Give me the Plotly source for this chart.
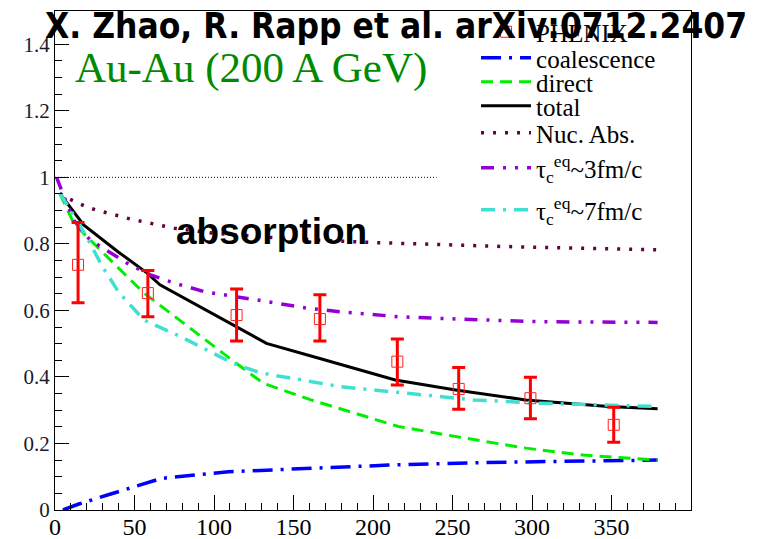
import plotly.graph_objects as go

# ---- data ----
npart_data = [14.5, 58.4, 114.2, 166.6, 215.3, 253.9, 299.0, 351.4]
raa_data = [0.737, 0.652, 0.586, 0.574, 0.446, 0.364, 0.336, 0.256]
err_plus = [0.127, 0.068, 0.078, 0.073, 0.068, 0.064, 0.063, 0.053]
err_minus = [0.114, 0.071, 0.078, 0.066, 0.070, 0.061, 0.062, 0.052]

coal_x = [5, 15, 33, 58, 67, 109, 155, 210, 271, 332, 379]
coal_y = [0.0, 0.018, 0.045, 0.082, 0.095, 0.115, 0.125, 0.135, 0.143, 0.148, 0.150]

direct_x = [3, 12, 41, 56, 114, 131, 161, 216, 253, 296, 332, 379]
direct_y = [0.952, 0.86, 0.722, 0.652, 0.441, 0.381, 0.331, 0.251, 0.220, 0.186, 0.165, 0.150]

total_x = [3, 18, 40, 58, 66, 114, 133, 166, 214, 252, 296, 348, 379]
total_y = [0.952, 0.857, 0.775, 0.712, 0.677, 0.552, 0.501, 0.456, 0.391, 0.361, 0.331, 0.311, 0.304]

nuc_x = [3, 6, 14, 21, 28, 36, 48, 60, 75, 100, 133, 166, 200, 283, 379]
nuc_y = [0.952, 0.942, 0.924, 0.909, 0.899, 0.889, 0.874, 0.862, 0.847, 0.832, 0.820, 0.811, 0.804, 0.792, 0.782]

tau3_x = [1, 5, 12, 22, 47, 60, 75, 95, 125, 158, 179, 216, 241, 304, 379]
tau3_y = [1.0, 0.95, 0.87, 0.812, 0.737, 0.707, 0.682, 0.655, 0.633, 0.607, 0.596, 0.581, 0.576, 0.566, 0.564]

tau7_x = [3, 10, 20, 30, 40, 56, 79, 112, 127, 137, 154, 179, 221, 263, 305, 379]
tau7_y = [0.952, 0.90, 0.82, 0.73, 0.655, 0.571, 0.521, 0.441, 0.416, 0.405, 0.392, 0.371, 0.351, 0.331, 0.321, 0.311]

unity_x = [0, 240]
unity_y = [1, 1]

x_ticks = [0, 50, 100, 150, 200, 250, 300, 350]
y_ticks = [0, 0.2, 0.4, 0.6, 0.8, 1.0, 1.2, 1.4]
y_tick_labels = ["0", "0.2", "0.4", "0.6", "0.8", "1", "1.2", "1.4"]

title_text = "X. Zhao, R. Rapp et al. arXiv:0712.2407"
system_text = "Au-Au (200 A GeV)"
absorption_text = "absorption"

SERIF = "Liberation Serif"

fig = go.Figure()

fig.add_trace(go.Scatter(x=unity_x, y=unity_y, mode="lines", showlegend=False,
                         line=dict(color="black", width=1, dash="1px,2px")))

fig.add_trace(go.Scatter(x=coal_x, y=coal_y, mode="lines", name="coalescence",
                         legend="legend2",
                         line=dict(color="#0000ff", width=3.5, dash="20px,8px,3px,8px")))
fig.add_trace(go.Scatter(x=direct_x, y=direct_y, mode="lines", name="direct",
                         legend="legend3",
                         line=dict(color="#00ee00", width=3, dash="12px,7px")))
fig.add_trace(go.Scatter(x=total_x, y=total_y, mode="lines", name="total",
                         legend="legend4",
                         line=dict(color="black", width=3)))
fig.add_trace(go.Scatter(x=nuc_x, y=nuc_y, mode="lines", name="Nuc. Abs.",
                         legend="legend5",
                         line=dict(color="#660044", width=3.5, dash="3px,9px")))
fig.add_trace(go.Scatter(x=tau3_x, y=tau3_y, mode="lines",
                         name="τ<sub>c</sub><sup>eq</sup>~3fm/c",
                         legend="legend6",
                         line=dict(color="#9400d3", width=3.5, dash="13px,9px,3px,9px,3px,9px")))
fig.add_trace(go.Scatter(x=tau7_x, y=tau7_y, mode="lines",
                         name="τ<sub>c</sub><sup>eq</sup>~7fm/c",
                         legend="legend7",
                         line=dict(color="#40e0d0", width=3.5, dash="14px,8px,3px,8px")))

fig.add_trace(go.Scatter(x=npart_data, y=raa_data, mode="markers", name="PHENIX",
                         legend="legend",
                         marker=dict(symbol="square-open", size=11, color="#ff2020",
                                     line=dict(width=1)),
                         error_y=dict(type="data", array=err_plus, arrayminus=err_minus,
                                      color="#ff0000", thickness=3, width=6.5)))

PLOT_TOP, PLOT_BOT = 11, 510


def py2paper(py):
    return (PLOT_BOT - py) / (PLOT_BOT - PLOT_TOP)


leg_common = dict(xanchor="left", yanchor="middle", bgcolor="rgba(0,0,0,0)",
                  font=dict(family=SERIF, size=25, color="black"), itemwidth=50,
                  borderwidth=0)
leg_x = 0.662
legend_rows = [32, 58, 82, 106, 133, 168, 210]
layout_legends = {}
for i, py in enumerate(legend_rows):
    key = "legend" if i == 0 else f"legend{i+1}"
    layout_legends[key] = dict(x=leg_x, y=py2paper(py), **leg_common)

fig.update_layout(
    width=762, height=539,
    margin=dict(l=55, r=71, t=PLOT_TOP, b=539 - PLOT_BOT, pad=0, autoexpand=False),
    paper_bgcolor="white", plot_bgcolor="white",
    font=dict(family=SERIF, color="black"),
    showlegend=True,
    **layout_legends,
)

fig.update_xaxes(range=[0, 400], tickvals=x_ticks, ticktext=[str(v) for v in x_ticks],
                 automargin=False, ticklabelstandoff=-5,
                 showgrid=False, zeroline=False, showline=True, linecolor="black",
                 linewidth=1, mirror=True, ticks="inside", ticklen=15, tickcolor="black",
                 tickfont=dict(family=SERIF, size=24, color="black"),
                 minor=dict(ticks="inside", ticklen=7, dtick=10, tick0=0, tickcolor="black",
                            showgrid=False))
fig.update_yaxes(range=[0, 1.5], tickvals=y_ticks, ticktext=y_tick_labels,
                 automargin=False,
                 showgrid=False, zeroline=False, showline=True, linecolor="black",
                 linewidth=1, mirror=True, ticks="inside", ticklen=14, tickcolor="black",
                 tickfont=dict(family=SERIF, size=21, color="#1a1a2e"),
                 minor=dict(ticks="inside", ticklen=7, dtick=0.05, tick0=0, tickcolor="black",
                            showgrid=False))

fig.add_annotation(text=system_text, xref="paper", yref="paper", x=0.0283, y=py2paper(68),
                   xanchor="left", yanchor="middle", showarrow=False,
                   font=dict(family=SERIF, size=43, color="#008a00"))
fig.add_annotation(text="<b>" + absorption_text + "</b>", xref="paper", yref="paper",
                   x=(271 - 55) / 636, y=py2paper(231), xanchor="center", yanchor="middle",
                   showarrow=False,
                   font=dict(family="Liberation Sans", size=37, color="black"))
fig.add_annotation(text="<b>" + title_text + "</b>", xref="paper", yref="paper",
                   x=(43 - 55) / 636, y=py2paper(26), xanchor="left", yanchor="middle",
                   showarrow=False,
                   font=dict(family="DejaVu Sans Condensed, DejaVu Sans", size=35,
                             color="black"))

fig.write_html("out.html")
